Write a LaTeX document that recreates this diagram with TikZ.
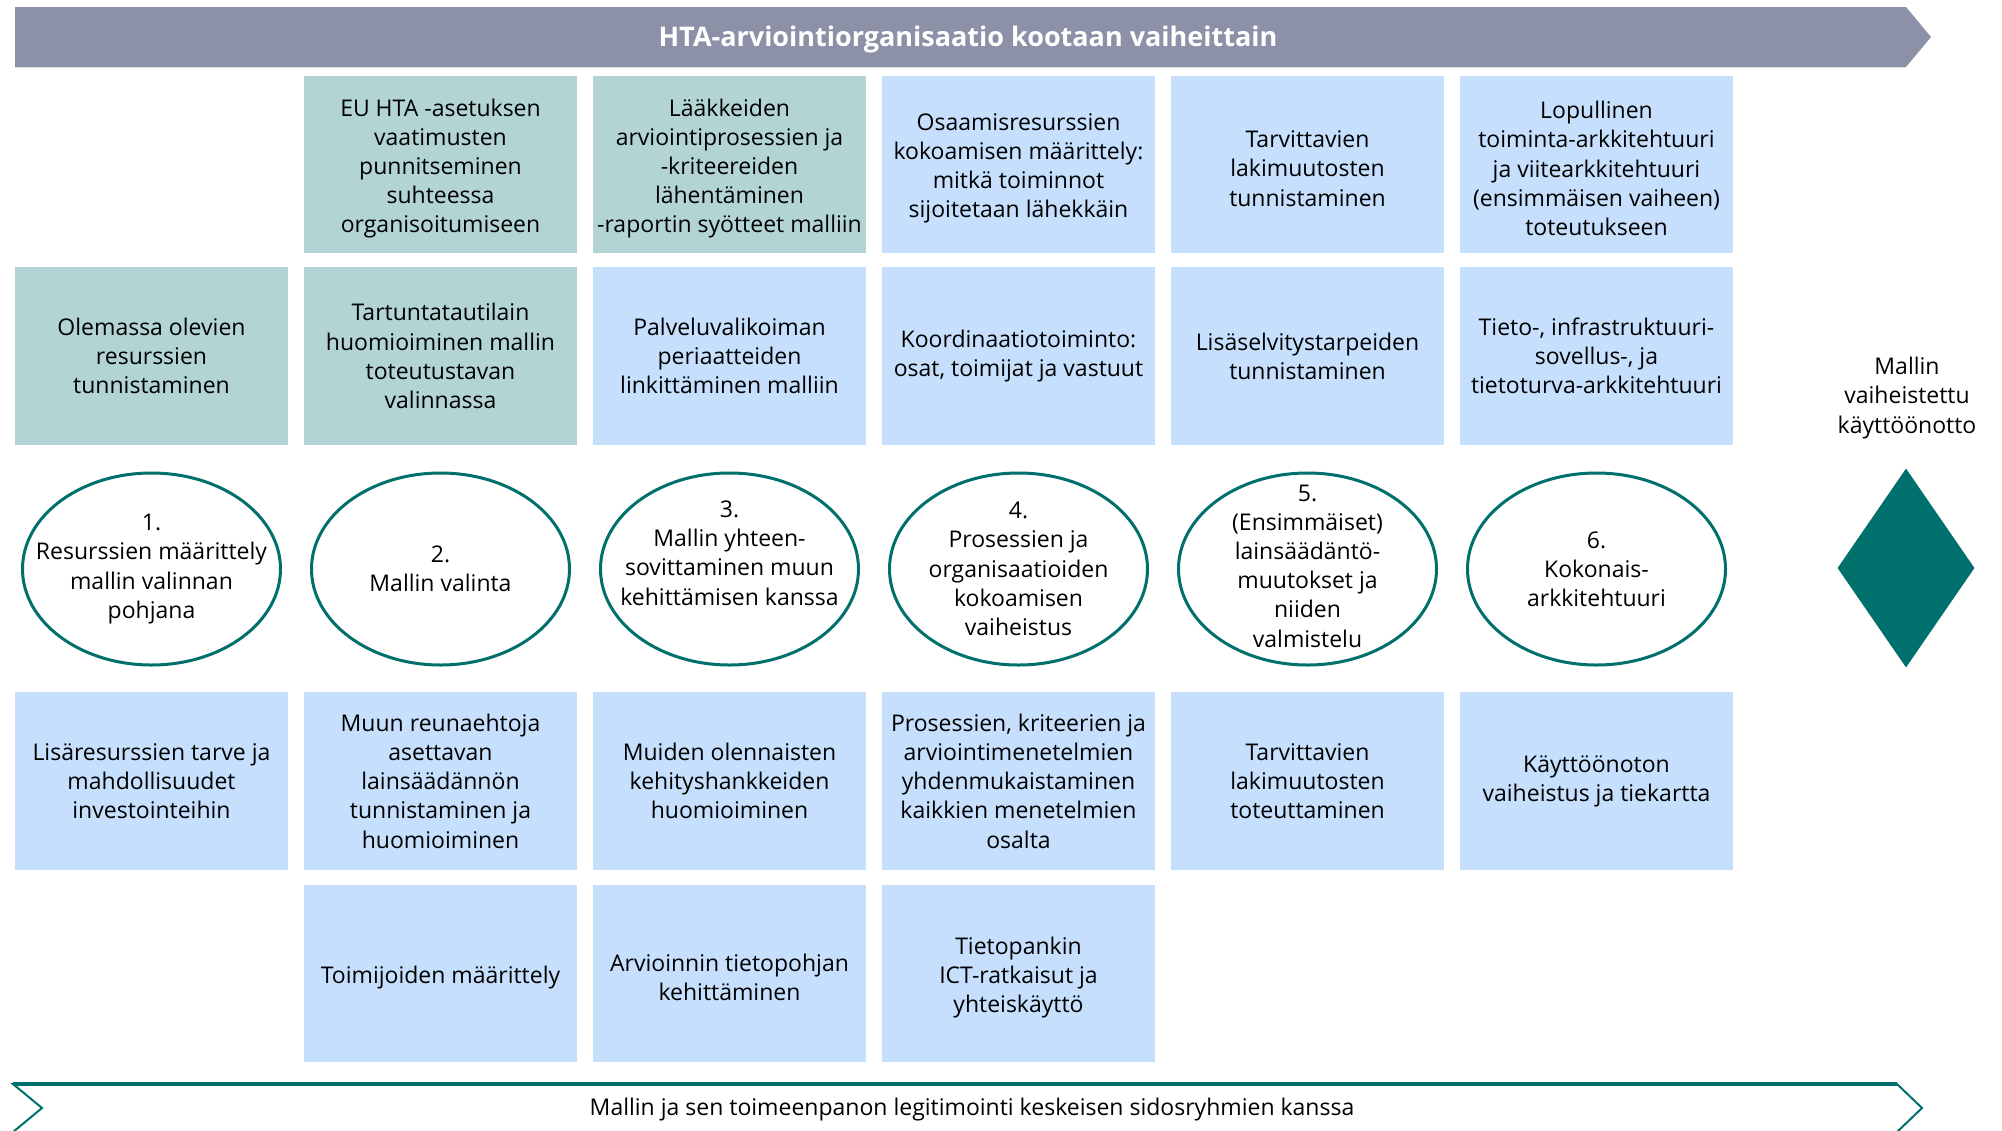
\documentclass[tikz,border=0pt]{standalone}
\usepackage{fontspec}
\setmainfont{Open Sans}
\usetikzlibrary{shapes.geometric}
\definecolor{arrowgray}{RGB}{140,145,168}
\definecolor{tealfill}{RGB}{178,212,212}
\definecolor{bluefill}{RGB}{197,223,253}
\definecolor{tealdark}{RGB}{0,112,108}
\newcommand{\bodyfont}{\fontsize{23}{29.2}\selectfont}
\begin{document}
\begin{tikzpicture}[x=1pt,y=-1pt,
  cellbox/.style={rectangle, minimum width=273pt, minimum height=177.5pt, inner sep=0pt, align=center, font=\bodyfont},
  tealcell/.style={cellbox, fill=tealfill},
  bluecell/.style={cellbox, fill=bluefill},
  celltext/.style={align=center, font=\bodyfont, inner sep=0pt},
  stageell/.style={ellipse, draw=tealdark, line width=3pt, minimum width=258pt, minimum height=192pt, inner sep=0pt},
  stagetext/.style={align=center, font=\bodyfont, inner sep=0pt},
  plain/.style={align=center, font=\bodyfont, inner sep=0pt}]
\useasboundingbox (0,0) rectangle (2002,1130);
\clip (0,0) rectangle (2002,1130);
\fill[white] (0,0) rectangle (2002,1130);

% top arrow
\fill[arrowgray] (15,7) -- (1906,7) -- (1931,37) -- (1906,67) -- (15,67) -- cycle;
\draw[gray!25, line width=1.5pt] (15,67.5) -- (1906,67.5);
\node[font=\fontsize{27}{32}\selectfont\bfseries, text=white, inner sep=0pt] (title) at (968,39) {HTA-arviointiorganisaatio kootaan vaiheittain};

% row 1
\node[tealcell] (r1c2) at (440.5,164.5) {};
\node[tealcell] (r1c3) at (729.5,164.5) {};
\node[bluecell] (r1c4) at (1018.5,164.5) {};
\node[bluecell] (r1c5) at (1307.5,164.5) {};
\node[bluecell] (r1c6) at (1596.5,164.5) {};
\node[celltext] (r1c2t) at (440.5,168.5) {EU HTA -asetuksen\\vaatimusten\\punnitseminen\\suhteessa\\organisoitumiseen};
\node[celltext] (r1c3t) at (729.5,168.5) {Lääkkeiden\\arviointiprosessien ja\\-kriteereiden\\lähentäminen\\-raportin syötteet malliin};
\node[celltext] (r1c4t) at (1018.5,168.5) {Osaamisresurssien\\kokoamisen määrittely:\\mitkä toiminnot\\sijoitetaan lähekkäin};
\node[celltext] (r1c5t) at (1307.5,168.5) {Tarvittavien\\lakimuutosten\\tunnistaminen};
\node[celltext] (r1c6t) at (1596.5,168.5) {Lopullinen\\toiminta-arkkitehtuuri\\ja viitearkkitehtuuri\\(ensimmäisen vaiheen)\\toteutukseen};

% row 2
\node[tealcell] (r2c1) at (151.5,356) {Olemassa olevien\\resurssien\\tunnistaminen};
\node[tealcell] (r2c2) at (440.5,356) {Tartuntatautilain\\huomioiminen mallin\\toteutustavan\\valinnassa};
\node[bluecell] (r2c3) at (729.5,356) {Palveluvalikoiman\\periaatteiden\\linkittäminen malliin};
\node[bluecell] (r2c4) at (1018.5,356) {Koordinaatiotoiminto:\\osat, toimijat ja vastuut};
\node[bluecell] (r2c5) at (1307.5,356) {Lisäselvitystarpeiden\\tunnistaminen};
\node[bluecell] (r2c6) at (1596.5,356) {Tieto-, infrastruktuuri-\\sovellus-, ja\\tietoturva-arkkitehtuuri};

% stage ellipses
\node[stageell] (e1) at (151.5,569) {};
\node[stageell] (e2) at (440.5,569) {};
\node[stageell] (e3) at (729.5,569) {};
\node[stageell] (e4) at (1018.5,569) {};
\node[stageell] (e5) at (1307.5,569) {};
\node[stageell] (e6) at (1596.5,569) {};
\node[stagetext] (t1) at (151.5,569) {1.\\Resurssien määrittely\\mallin valinnan\\pohjana};
\node[stagetext] (t2) at (440.5,569) {2.\\Mallin valinta};
\node[stagetext] (t3) at (729.5,553) {3.\\Mallin yhteen-\\sovittaminen muun\\kehittämisen kanssa};
\node[stagetext] (t4) at (1018.5,569) {4.\\Prosessien ja\\organisaatioiden\\kokoamisen\\vaiheistus};
\node[stagetext] (t5) at (1307.5,566) {5.\\(Ensimmäiset)\\lainsäädäntö-\\muutokset ja\\niiden\\valmistelu};
\node[stagetext] (t6) at (1596.5,569) {6.\\Kokonais-\\arkkitehtuuri};

% milestone
\node[diamond, fill=tealdark, minimum width=137pt, minimum height=199pt, inner sep=0pt] (ms) at (1906,568) {};
\node[plain] (mslabel) at (1907,398) {Mallin\\vaiheistettu\\käyttöönotto};

% row 3
\node[bluecell] (r3c1) at (151.5,781) {Lisäresurssien tarve ja\\mahdollisuudet\\investointeihin};
\node[bluecell] (r3c2) at (440.5,781) {Muun reunaehtoja\\asettavan\\lainsäädännön\\tunnistaminen ja\\huomioiminen};
\node[bluecell] (r3c3) at (729.5,781) {Muiden olennaisten\\kehityshankkeiden\\huomioiminen};
\node[bluecell] (r3c4) at (1018.5,781) {Prosessien, kriteerien ja\\arviointimenetelmien\\yhdenmukaistaminen\\kaikkien menetelmien\\osalta};
\node[bluecell] (r3c5) at (1307.5,781) {Tarvittavien\\lakimuutosten\\toteuttaminen};
\node[bluecell] (r3c6) at (1596.5,781) {Käyttöönoton\\vaiheistus ja tiekartta};

% row 4
\node[bluecell] (r4c2) at (440.5,973.5) {};
\node[bluecell] (r4c3) at (729.5,973.5) {};
\node[bluecell] (r4c4) at (1018.5,973.5) {};
\node[celltext] (r4c2t) at (440.5,977.5) {Toimijoiden määrittely};
\node[celltext] (r4c3t) at (729.5,977.5) {Arvioinnin tietopohjan\\kehittäminen};
\node[celltext] (r4c4t) at (1018.5,977.5) {Tietopankin\\ICT-ratkaisut ja\\yhteiskäyttö};

% bottom arrow
\draw[tealdark, line width=2pt, fill=white] (13,1084) -- (1897,1084) -- (1922,1108) -- (1897,1132) -- (13,1132) -- (42,1108) -- cycle;
\draw[tealdark, line width=4.5pt] (13,1084) -- (1897,1084);
\node[plain] (legit) at (972,1110) {Mallin ja sen toimeenpanon legitimointi keskeisen sidosryhmien kanssa};
\end{tikzpicture}
\end{document}
